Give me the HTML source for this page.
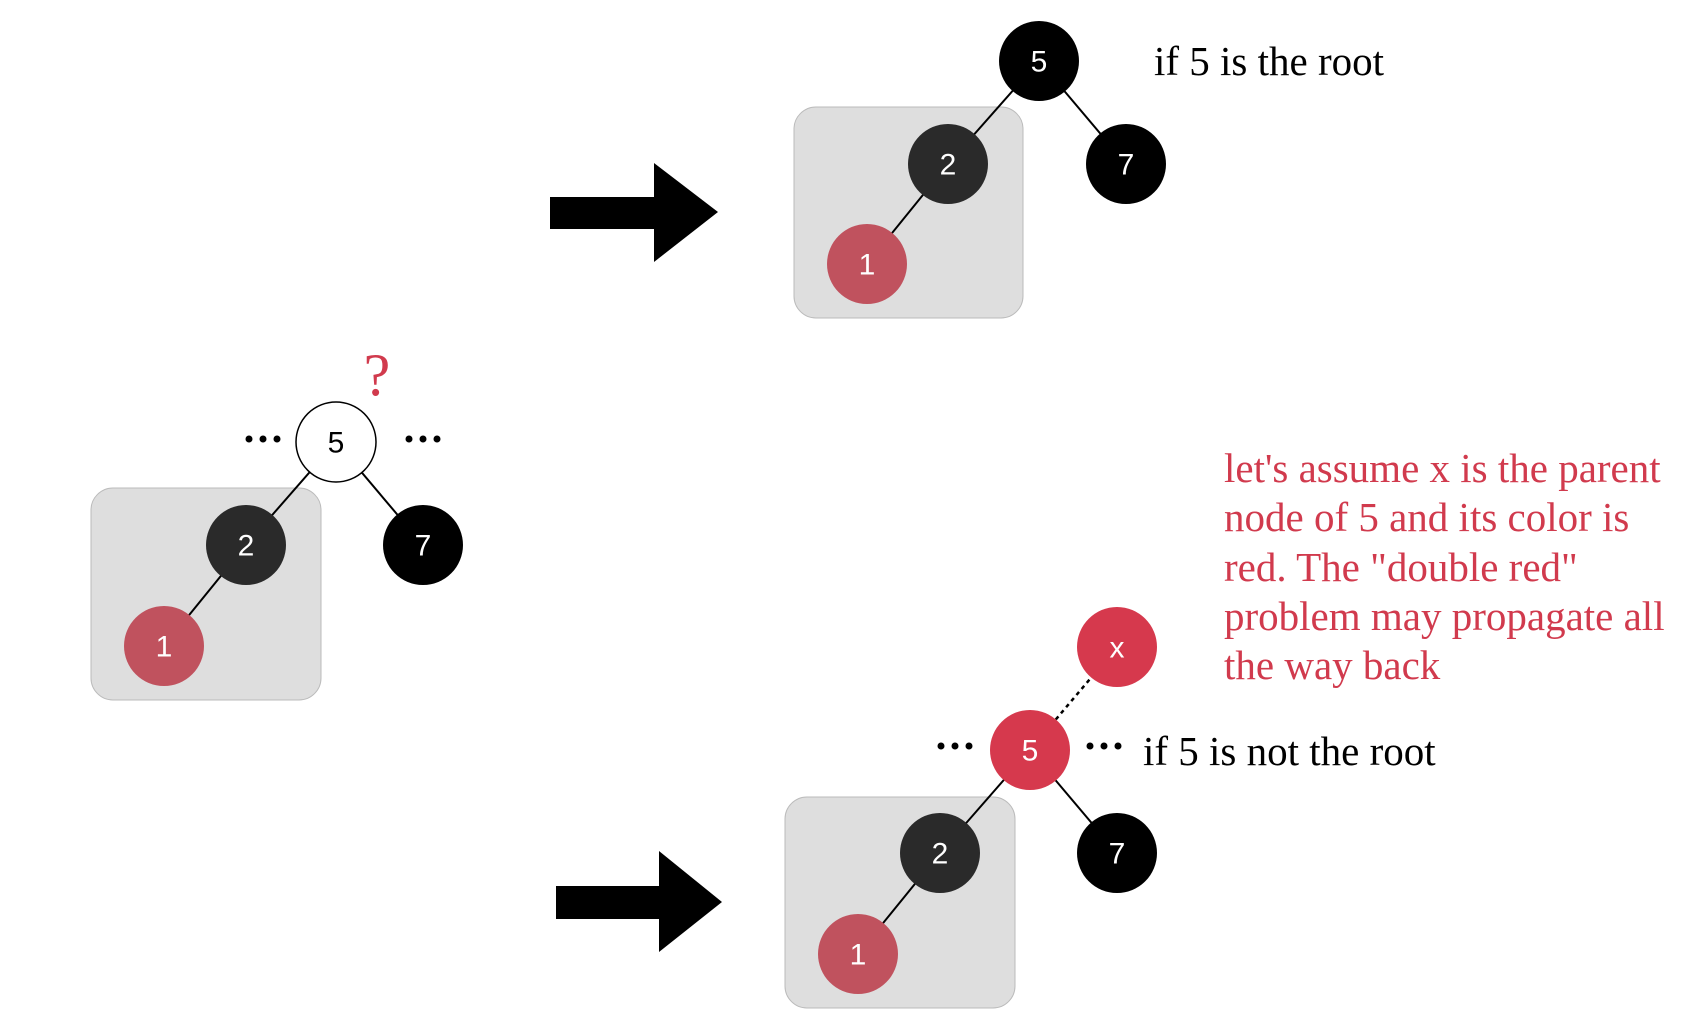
<!DOCTYPE html>
<html><head><meta charset="utf-8"><style>
html,body{margin:0;padding:0;background:#fff;}
svg{display:block;}
.n{font-family:"Liberation Sans",sans-serif;font-size:30px;text-anchor:middle;dominant-baseline:central;}
.t{font-family:"Liberation Serif",serif;font-size:41px;}
</style></head><body>
<svg width="1696" height="1034" viewBox="0 0 1696 1034">
<g transform="translate(-5,0)">
<g>
<rect x="799" y="107" width="229" height="211" rx="22" fill="#dedede" stroke="#bbb"/>
<line x1="1044" y1="61" x2="953" y2="164" stroke="#000" stroke-width="2"/>
<line x1="1044" y1="61" x2="1131" y2="164" stroke="#000" stroke-width="2"/>
<line x1="953" y1="164" x2="872" y2="264" stroke="#000" stroke-width="2"/>
<g><circle cx="1044" cy="61" r="40" fill="#000"/><text class="n" x="1044" y="62" fill="#fff">5</text></g>
<g><circle cx="1131" cy="164" r="40" fill="#000"/><text class="n" x="1131" y="165" fill="#fff">7</text></g>
<g><circle cx="953" cy="164" r="40" fill="#2a2a2a"/><text class="n" x="953" y="165" fill="#fff">2</text></g>
<g><circle cx="872" cy="264" r="40" fill="#c0525e"/><text class="n" x="872" y="265" fill="#fff">1</text></g>
<text class="t" x="1159" y="75" fill="#000">if 5 is the root</text>
</g>
<polygon points="555,197 659,197 659,163 723,212 659,262 659,229 555,229" fill="#000"/>
<g>
<rect x="790" y="797" width="230" height="211" rx="22" fill="#dedede" stroke="#bbb"/>
<line x1="1035" y1="750" x2="1122" y2="647" stroke="#000" stroke-width="2.5" stroke-dasharray="4,4"/>
<line x1="1035" y1="750" x2="945" y2="853" stroke="#000" stroke-width="2"/>
<line x1="1035" y1="750" x2="1122" y2="853" stroke="#000" stroke-width="2"/>
<line x1="945" y1="853" x2="863" y2="954" stroke="#000" stroke-width="2"/>
<g><circle cx="1122" cy="647" r="40" fill="#d6394d"/><text class="n" x="1122" y="648" fill="#fff">x</text></g>
<g><circle cx="1035" cy="750" r="40" fill="#d6394d"/><text class="n" x="1035" y="751" fill="#fff">5</text></g>
<g><circle cx="1122" cy="853" r="40" fill="#000"/><text class="n" x="1122" y="854" fill="#fff">7</text></g>
<g><circle cx="945" cy="853" r="40" fill="#2a2a2a"/><text class="n" x="945" y="854" fill="#fff">2</text></g>
<g><circle cx="863" cy="954" r="40" fill="#c0525e"/><text class="n" x="863" y="955" fill="#fff">1</text></g>
<g fill="#000"><circle cx="946" cy="746" r="3.5"/><circle cx="960" cy="746" r="3.5"/><circle cx="974" cy="746" r="3.5"/></g>
<g fill="#000"><circle cx="1095" cy="746" r="3.5"/><circle cx="1109" cy="746" r="3.5"/><circle cx="1123" cy="746" r="3.5"/></g>
<text class="t" x="1148" y="765" fill="#000">if 5 is not the root</text>
</g>
<polygon points="561,886 664,886 664,851 727,902 664,952 664,919 561,919" fill="#000"/>
<g class="t" fill="#d13a4d">
<text x="1229" y="482">let's assume x is the parent</text>
<text x="1229" y="531">node of 5 and its color is</text>
<text x="1229" y="581">red. The "double red"</text>
<text x="1229" y="630">problem may propagate all</text>
<text x="1229" y="679">the way back</text>
</g>
</g>
<g transform="translate(-1,0)">
<rect x="92" y="488" width="230" height="212" rx="22" fill="#dedede" stroke="#bbb"/>
<line x1="337" y1="442" x2="247" y2="545" stroke="#000" stroke-width="2"/>
<line x1="337" y1="442" x2="424" y2="545" stroke="#000" stroke-width="2"/>
<line x1="247" y1="545" x2="165" y2="646" stroke="#000" stroke-width="2"/>
<g><circle cx="337" cy="442" r="40" fill="#fff" stroke="#000" stroke-width="1.5"/><text class="n" x="337" y="443" fill="#000">5</text></g>
<g><circle cx="424" cy="545" r="40" fill="#000"/><text class="n" x="424" y="546" fill="#fff">7</text></g>
<g><circle cx="247" cy="545" r="40" fill="#2a2a2a"/><text class="n" x="247" y="546" fill="#fff">2</text></g>
<g><circle cx="165" cy="646" r="40" fill="#c0525e"/><text class="n" x="165" y="647" fill="#fff">1</text></g>
<g fill="#000"><circle cx="250" cy="439" r="3.5"/><circle cx="264" cy="439" r="3.5"/><circle cx="278" cy="439" r="3.5"/></g>
<g fill="#000"><circle cx="410" cy="439" r="3.5"/><circle cx="424" cy="439" r="3.5"/><circle cx="438" cy="439" r="3.5"/></g>
<text x="378" y="395" font-family="Liberation Serif,serif" font-size="60" fill="#d13a4d" text-anchor="middle">?</text>
</g>
</svg>
</body></html>
